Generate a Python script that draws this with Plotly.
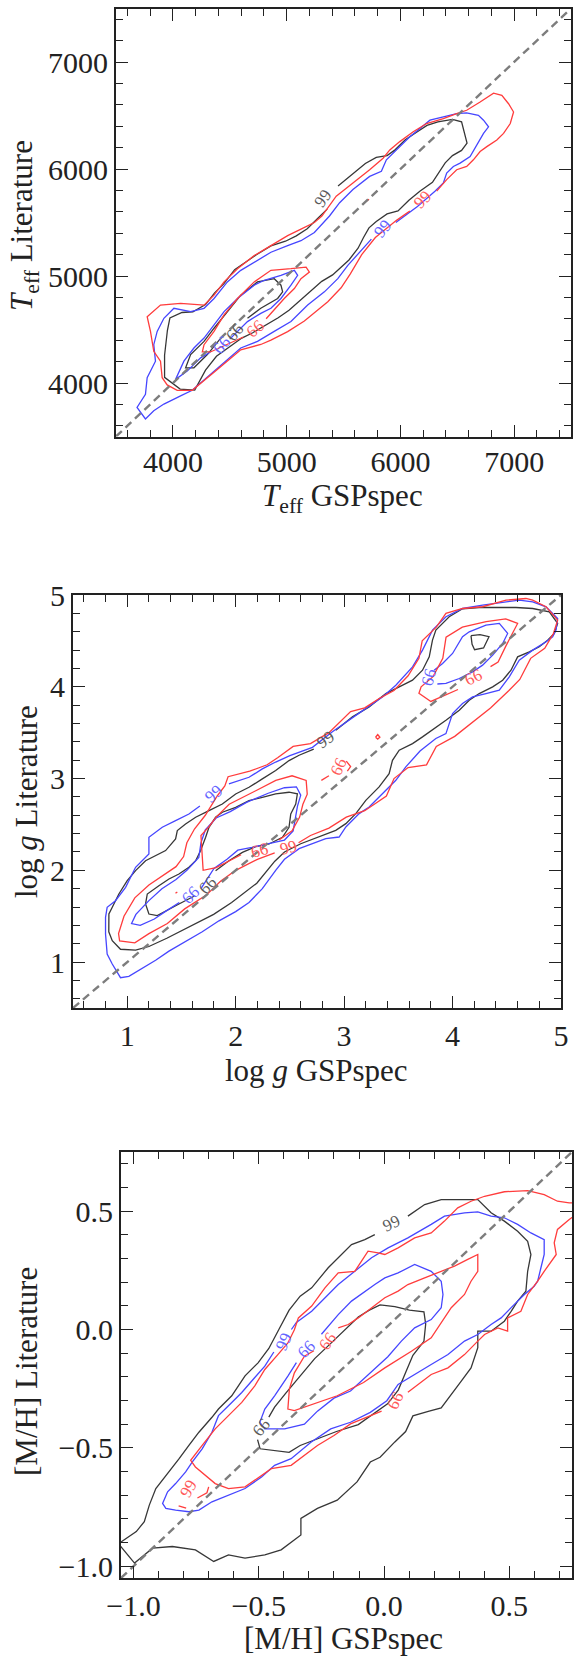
import plotly.graph_objects as go

W, H = 574, 1656

# ---------------- axis ranges / ticks ----------------
TEFF_RANGE = [3500, 7500]
LOGG_RANGE = [0.5, 5.0]
MH_RANGE = [-1.05, 0.75]

# ---------------- Panel 1 : Teff ----------------
TEFF_BLACK_99 = [(5452,5841),(5564,5941),(5692,6051),(5788,6108),(5883,6125),(5947,6174),(6043,6274),(6139,6341),
    (6234,6408),(6330,6441),(6458,6464),(6538,6441),(6570,6324),(6586,6241),(6538,6174),(6458,6125),(6394,6058),
    (6330,5958),(6282,5875),(6171,5792),(6075,5708),(5979,5608),(5883,5580),(5788,5510),(5724,5450),(5676,5360),
    (5628,5260),(5548,5150),(5484,5090),(5404,5010),(5309,4950),(5213,4860),(5117,4770),(5021,4680),(4926,4610),
    (4798,4530),(4702,4470),(4606,4420),(4511,4350),(4383,4250),(4287,4120),(4192,3933),(4064,3943),(3927,4053),
    (3927,4260),(3952,4493),(3974,4609),(4080,4659),(4176,4666),(4287,4733),(4367,4842),(4447,4926),(4543,5059),
    (4638,5132),(4734,5199),(4862,5282),(4990,5325),(5085,5375),(5181,5442),(5277,5542),(5357,5625)]
TEFF_BLACK_66 = [(4421,4420),(4303,4266),(4185,4142),(4112,4142),(4156,4266),(4274,4389),(4362,4512),(4479,4667),
    (4597,4821),(4744,4945),(4891,4975),(4950,4914),(4965,4852),(4921,4790),(4773,4698),(4656,4605)]
TEFF_BLUE_99 = [(5745,5345),(5642,5222),(5538,5099),(5450,4975),(5332,4852),(5185,4728),(5038,4574),(4891,4482),
    (4744,4389),(4597,4327),(4362,4111),(4170,3932),(4068,3880),(3921,3803),(3832,3741),(3759,3664),(3685,3772),
    (3759,3895),(3774,4050),(3847,4204),(3832,4358),(3862,4482),(3921,4605),(4009,4698),(4156,4667),(4274,4698),
    (4362,4790),(4479,4945),(4597,5053),(4715,5130),(4862,5222),(5009,5284),(5126,5330),(5244,5407),(5377,5561),
    (5466,5685),(5583,5808),(5730,5931),(5833,5978),(5877,6086),(5966,6178),(6083,6302),(6172,6379),(6260,6456),
    (6378,6487),(6495,6518),(6583,6524),(6686,6502),(6731,6456),(6775,6394),(6731,6333),(6672,6225),(6613,6117),
    (6525,6055),(6466,6024),(6407,5962),(6378,5870),(6304,5793),(6150,5650),(5960,5500)]
TEFF_BLUE_66 = [(4330,4290),(4244,4235),(4126,4111),(4024,4034),(4097,4204),(4185,4327),(4274,4420),(4362,4543),
    (4450,4667),(4568,4790),(4715,4914),(4803,4960),(4950,5006),(5068,5053),(5097,5006),(5038,4914),(4950,4790),
    (4862,4698),(4773,4651),(4656,4574),(4568,4482),(4500,4410)]
TEFF_RED_99 = [(6083,5607),(5966,5520),(5780,5360),(5660,5200),(5560,5020),(5479,4890),(5362,4760),(5244,4660),
    (5156,4580),(5009,4480),(4862,4400),(4773,4360),(4597,4310),(4362,4100),(4170,3932),(4038,3932),(3950,3982),
    (3906,4050),(3891,4204),(3832,4296),(3803,4482),(3774,4620),(3891,4728),(4068,4744),(4274,4728),(4362,4821),
    (4450,4945),(4568,5068),(4715,5191),(4862,5284),(5009,5377),(5126,5438),(5244,5500),(5310,5560),(5436,5746),
    (5583,5870),(5730,5993),(5848,6101),(5907,6178),(5995,6256),(6113,6348),(6230,6425),(6378,6471),(6495,6518),
    (6583,6549),(6701,6626),(6819,6709),(6892,6688),(6951,6610),(6995,6533),(6966,6425),(6907,6333),(6848,6271),
    (6760,6209),(6701,6163),(6642,6086),(6583,6024),(6495,5993),(6407,5901),(6319,5793)]
TEFF_RED_66 = [(4820,4600),(4862,4651),(4979,4790),(5068,4883),(5126,4975),(5200,5037),(5171,5083),(5038,5068),
    (4862,5053),(4715,4945),(4568,4790),(4450,4636),(4362,4482),(4274,4358),(4259,4290),(4330,4290),(4450,4345),
    (4620,4430)]
TEFF_RED_DOT = [(5700,5700),(5725,5718)]
TEFF_LABELS = [(5320,5720,"99","black",-55),(5845,5445,"99","blue",-50),(6195,5715,"99","red",-45),
    (4730,4505,"66","red",-40),(4425,4355,"66","blue",-50),(4540,4475,"66","black",-50)]

# ---------------- Panel 2 : log g ----------------
LOGG_BLACK_99 = [(2.923,3.527),(3.077,3.672),(3.231,3.781),(3.385,3.926),(3.508,3.999),(3.631,4.072),(3.723,4.181),
    (3.785,4.326),(3.815,4.508),(3.846,4.617),(3.969,4.763),(4.092,4.850),(4.246,4.864),(4.431,4.864),(4.585,4.864),
    (4.739,4.853),(4.892,4.817),(4.969,4.690),(4.938,4.581),(4.877,4.508),(4.800,4.436),(4.708,4.381),(4.600,4.326),
    (4.539,4.181),(4.462,4.072),(4.370,3.999),(4.246,3.926),(4.154,3.854),(4.062,3.745),(3.939,3.636),(3.815,3.527),
    (3.723,3.454),(3.631,3.381),(3.508,3.309),(3.446,3.199),(3.415,3.054),(3.323,2.909),(3.200,2.763),(3.108,2.618),
    (3.016,2.509),(2.923,2.436),(2.770,2.363),(2.600,2.290),(2.450,2.200),(2.361,2.100),(2.195,1.860),(1.963,1.650),
    (1.797,1.520),(1.598,1.400),(1.365,1.260),(1.200,1.170),(1.077,1.130),(0.938,1.140),(0.862,1.233),(0.830,1.330),
    (0.831,1.524),(0.862,1.597),(0.923,1.742),(1.000,1.887),(1.077,1.997),(1.169,2.105),(1.354,2.215),(1.446,2.342),
    (1.462,2.433),(1.538,2.505),(1.631,2.578),(1.754,2.651),(1.877,2.723),(2.000,2.832),(2.123,2.905),(2.246,2.996),
    (2.369,3.087),(2.492,3.196),(2.585,3.254),(2.720,3.320)]
LOGG_BLACK_66 = [(1.815,1.996),(1.938,2.105),(2.062,2.196),(2.185,2.258),(2.308,2.287),(2.431,2.360),(2.492,2.469),
    (2.508,2.614),(2.554,2.723),(2.569,2.833),(2.492,2.851),(2.369,2.833),(2.246,2.796),(2.123,2.760),(2.000,2.687),
    (1.877,2.633),(1.815,2.578),(1.754,2.469),(1.723,2.360),(1.677,2.215),(1.631,2.105),(1.569,2.033),(1.477,1.960),
    (1.385,1.906),(1.292,1.833),(1.185,1.742),(1.169,1.633),(1.200,1.524),(1.277,1.506),(1.385,1.578),(1.477,1.633),
    (1.620,1.720)]
LOGG_BLACK_66B = [(4.170,4.558),(4.253,4.569),(4.336,4.546),(4.286,4.423),(4.203,4.404),(4.180,4.462),(4.170,4.558)]
LOGG_BLUE_99 = [(1.938,2.942),(2.123,3.014),(2.246,3.105),(2.369,3.180),(2.500,3.250),(2.585,3.290),(2.708,3.340),
    (2.892,3.509),(3.046,3.636),(3.200,3.763),(3.354,3.890),(3.477,4.017),(3.631,4.217),(3.723,4.399),(3.815,4.617),
    (3.939,4.763),(4.092,4.853),(4.277,4.890),(4.431,4.915),(4.615,4.944),(4.739,4.926),(4.862,4.871),(4.969,4.744),
    (4.954,4.617),(4.923,4.544),(4.862,4.490),(4.739,4.399),(4.615,4.290),(4.523,4.108),(4.431,3.963),(4.308,3.926),
    (4.185,3.890),(4.092,3.818),(4.000,3.708),(3.939,3.490),(3.846,3.436),(3.700,3.300),(3.569,3.127),(3.477,2.981),
    (3.354,2.836),(3.231,2.690),(3.139,2.618),(3.016,2.472),(2.954,2.363),(2.831,2.345),(2.708,2.291),(2.585,2.236),
    (2.450,2.120),(2.369,2.000),(2.246,1.800),(2.123,1.650),(2.000,1.550),(1.846,1.450),(1.692,1.330),(1.538,1.220),
    (1.385,1.120),(1.262,1.020),(1.138,0.930),(1.015,0.845),(0.938,0.830),(0.862,0.979),(0.815,1.088),(0.800,1.306),
    (0.800,1.488),(0.815,1.597),(0.892,1.669),(0.985,1.815),(1.077,2.033),(1.200,2.178),(1.200,2.360),(1.323,2.469),
    (1.446,2.542),(1.569,2.614),(1.670,2.700)]
LOGG_BLUE_66 = [(1.680,1.800),(1.800,2.020),(1.920,2.120),(2.020,2.220),(2.150,2.250),(2.300,2.290),(2.450,2.330),
    (2.530,2.430),(2.550,2.550),(2.570,2.700),(2.600,2.820),(2.560,2.910),(2.450,2.900),(2.300,2.840),(2.100,2.740),
    (1.950,2.640),(1.820,2.570),(1.720,2.440),(1.680,2.300),(1.660,2.140),(1.550,2.000),(1.450,1.900),(1.320,1.800),
    (1.200,1.670),(1.080,1.520),(1.040,1.420),(1.120,1.400),(1.250,1.470),(1.350,1.550),(1.480,1.650)]
LOGG_BLUE_66B = [(3.830,4.180),(3.908,4.254),(4.000,4.363),(4.092,4.545),(4.154,4.599),(4.308,4.672),(4.431,4.690),
    (4.508,4.581),(4.462,4.472),(4.370,4.345),(4.277,4.236),(4.185,4.163),(4.062,4.090),(3.939,4.036),(3.860,4.030)]
LOGG_RED_99 = [(2.580,2.300),(2.690,2.380),(2.860,2.460),(3.020,2.580),(3.190,2.650),(3.390,2.810),(3.460,3.000),
    (3.590,3.120),(3.760,3.150),(3.850,3.350),(4.020,3.460),(4.190,3.620),(4.350,3.770),(4.520,3.960),(4.620,4.080),
    (4.720,4.310),(4.850,4.420),(4.930,4.580),(4.969,4.726),(4.862,4.872),(4.739,4.944),(4.677,4.962),(4.493,4.944),
    (4.277,4.872),(4.092,4.853),(3.939,4.800),(3.850,4.650),(3.720,4.500),(3.690,4.310),(3.590,4.120),(3.460,3.960),
    (3.320,3.870),(3.190,3.770),(3.060,3.730),(2.860,3.500),(2.690,3.380),(2.530,3.350),(2.390,3.230),(2.290,3.150),
    (2.130,3.080),(1.930,3.020),(1.900,2.920),(1.830,2.810),(1.720,2.600),(1.620,2.450),(1.550,2.300),(1.520,2.150),
    (1.450,2.040),(1.330,1.940),(1.200,1.840),(1.070,1.700),(0.970,1.500),(0.920,1.310),(0.930,1.230),(1.070,1.210),
    (1.200,1.310),(1.370,1.420),(1.530,1.580),(1.730,1.730),(1.860,1.880),(2.000,2.000),(2.200,2.120),(2.360,2.190)]
LOGG_RED_66 = [(2.400,2.330),(2.520,2.430),(2.590,2.580),(2.620,2.720),(2.660,2.830),(2.650,2.980),(2.520,3.030),
    (2.370,2.980),(2.190,2.870),(1.940,2.720),(1.820,2.580),(1.750,2.470),(1.680,2.380),(1.700,2.000),(1.820,2.030),
    (1.940,2.100),(2.050,2.170)]
LOGG_RED_66B = [(4.350,4.220),(4.420,4.270),(4.490,4.440),(4.550,4.580),(4.600,4.690),(4.490,4.740),(4.310,4.710),
    (4.090,4.650),(3.940,4.540),(3.910,4.310),(3.820,4.110),(3.710,4.000),(3.690,3.930),(3.800,3.840),(3.950,3.920),
    (4.050,3.970)]
LOGG_RED_66C = [(2.790,2.980),(2.860,3.030),None,(3.020,3.190),(3.060,3.130),(3.030,3.080)]
LOGG_RED_DOT = [(1.445,1.750),(1.462,1.765)]
LOGG_RED_LOOP = [(3.290,3.450),(3.310,3.480),(3.330,3.450),(3.310,3.430),(3.290,3.450)]
LOGG_LABELS = [(2.830,3.425,"99","black",-35),(1.800,2.840,"99","blue",-40),(1.580,1.730,"66","blue",-45),
    (1.740,1.835,"66","black",-45),(2.220,2.220,"66","red",-15),(2.490,2.245,"99","red",-15),
    (3.780,4.105,"66","blue",-75),(4.190,4.100,"66","red",-25),(2.950,3.130,"66","red",-65)]

# ---------------- Panel 3 : [M/H] ----------------
MH_BLACK_99 = [(0.095,0.479),(0.162,0.528),(0.228,0.549),(0.294,0.549),(0.374,0.549),(0.427,0.493),(0.480,0.458),
    (0.533,0.415),(0.573,0.373),(0.586,0.317),(0.573,0.246),(0.566,0.162),(0.533,0.120),(0.507,0.077),(0.480,0.035),
    (0.427,-0.007),(0.374,-0.007),(0.374,-0.077),(0.347,-0.162),(0.308,-0.218),(0.268,-0.275),(0.228,-0.331),
    (0.180,-0.345),(0.115,-0.365),(0.086,-0.431),(0.043,-0.475),(-0.016,-0.540),(-0.055,-0.560),(-0.108,-0.644),
    (-0.187,-0.721),(-0.266,-0.756),(-0.332,-0.798),(-0.332,-0.868),(-0.411,-0.931),(-0.476,-0.952),(-0.555,-0.966),
    (-0.621,-0.952),(-0.680,-0.980),(-0.753,-0.931),(-0.845,-0.917),(-0.924,-0.924),(-0.996,-0.987),(-1.060,-0.905),
    (-0.989,-0.854),(-0.957,-0.812),(-0.937,-0.742),(-0.911,-0.672),(-0.858,-0.602),(-0.818,-0.546),(-0.779,-0.490),
    (-0.739,-0.434),(-0.687,-0.371),(-0.661,-0.336),(-0.608,-0.280),(-0.555,-0.196),(-0.503,-0.141),(-0.460,-0.080),
    (-0.420,0.000),(-0.379,0.082),(-0.335,0.141),(-0.289,0.176),(-0.223,0.261),(-0.170,0.317),(-0.130,0.359),
    (-0.077,0.380),(-0.037,0.401)]
MH_BLACK_66 = [(-0.460,-0.370),(-0.437,-0.328),(-0.393,-0.270),(-0.335,-0.196),(-0.277,-0.123),(-0.219,-0.065),
    (-0.161,-0.006),(-0.103,0.053),(-0.059,0.082),(-0.016,0.104),(0.043,0.097),(0.101,0.082),(0.159,0.075),
    (0.166,0.023),(0.159,-0.050),(0.115,-0.109),(0.086,-0.182),(0.057,-0.255),(0.014,-0.314),(-0.045,-0.358),
    (-0.103,-0.402),(-0.190,-0.431),(-0.277,-0.468),(-0.335,-0.490),(-0.379,-0.519),(-0.437,-0.512),(-0.495,-0.504),
    (-0.505,-0.465)]
MH_BLUE_99 = [(-0.370,0.000),(-0.350,0.030),(-0.289,0.077),(-0.236,0.134),(-0.183,0.190),(-0.117,0.246),(-0.050,0.303),
    (0.016,0.345),(0.095,0.387),(0.188,0.444),(0.241,0.479),(0.321,0.493),(0.374,0.497),(0.427,0.479),(0.480,0.472),
    (0.533,0.444),(0.586,0.408),(0.639,0.380),(0.639,0.317),(0.626,0.261),(0.613,0.204),(0.599,0.183),(0.560,0.148),
    (0.520,0.106),(0.467,0.049),(0.427,0.021),(0.374,-0.021),(0.321,-0.049),(0.255,-0.106),(0.188,-0.148),
    (0.122,-0.190),(0.056,-0.232),(0.011,-0.301),(-0.055,-0.350),(-0.134,-0.392),(-0.213,-0.420),(-0.292,-0.476),
    (-0.371,-0.546),(-0.437,-0.574),(-0.489,-0.623),(-0.555,-0.672),(-0.621,-0.700),(-0.687,-0.728),(-0.739,-0.763),
    (-0.779,-0.770),(-0.832,-0.763),(-0.871,-0.756),(-0.884,-0.735),(-0.864,-0.686),(-0.832,-0.651),(-0.792,-0.602),
    (-0.766,-0.560),(-0.726,-0.504),(-0.687,-0.434),(-0.661,-0.364),(-0.621,-0.322),(-0.568,-0.266),(-0.516,-0.203),
    (-0.476,-0.155),(-0.440,-0.095)]
MH_BLUE_66 = [(-0.250,-0.020),(-0.183,0.063),(-0.130,0.120),(-0.077,0.162),(-0.037,0.190),(0.003,0.218),(0.056,0.239),
    (0.122,0.275),(0.188,0.246),(0.228,0.204),(0.235,0.148),(0.228,0.092),(0.188,0.042),(0.122,0.007),(0.069,-0.049),
    (0.015,-0.115),(-0.052,-0.180),(-0.134,-0.260),(-0.200,-0.290),(-0.266,-0.345),(-0.318,-0.400),(-0.397,-0.420),
    (-0.476,-0.420),(-0.496,-0.392),(-0.476,-0.336),(-0.437,-0.280),(-0.384,-0.197),(-0.350,-0.140)]
MH_RED_99 = [(0.760,0.535),(0.739,0.535),(0.692,0.542),(0.639,0.570),(0.573,0.587),(0.480,0.582),(0.401,0.563),
    (0.347,0.542),(0.294,0.514),(0.241,0.458),(0.188,0.408),(0.122,0.387),(0.056,0.345),(0.003,0.317),(-0.024,0.324),
    (-0.064,0.331),(-0.090,0.289),(-0.117,0.246),(-0.183,0.239),(-0.236,0.176),(-0.289,0.099),(-0.342,0.049),
    (-0.358,-0.001),(-0.384,-0.057),(-0.424,-0.106),(-0.476,-0.169),(-0.516,-0.238),(-0.568,-0.308),(-0.621,-0.364),
    (-0.674,-0.420),(-0.726,-0.490),(-0.772,-0.553),(-0.753,-0.581),(-0.713,-0.616),(-0.674,-0.651),(-0.621,-0.672),
    (-0.555,-0.665),(-0.450,-0.588),(-0.371,-0.574),(-0.266,-0.490),(-0.200,-0.448),(-0.134,-0.399),(-0.055,-0.364),
    (-0.010,-0.345),None,(0.095,-0.265),(0.188,-0.190),(0.255,-0.162),(0.321,-0.106),(0.374,-0.049),(0.401,-0.021),
    (0.454,0.007),(0.493,-0.007),(0.493,0.049),(0.546,0.077),(0.573,0.148),(0.613,0.204),(0.639,0.246),(0.687,0.317),
    (0.679,0.366),(0.692,0.423),(0.739,0.465),(0.760,0.480)]
MH_RED_66 = [(-0.183,0.007),(-0.143,0.021),(-0.103,0.049),(-0.050,0.092),(0.003,0.134),(0.056,0.162),(0.095,0.190),
    (0.162,0.218),(0.228,0.246),(0.281,0.268),(0.334,0.296),(0.374,0.317),(0.374,0.246),(0.347,0.204),(0.321,0.148),
    (0.268,0.092),(0.188,-0.035),(0.109,-0.092),(0.003,-0.162),(-0.082,-0.224),(-0.187,-0.280),(-0.266,-0.308),
    (-0.358,-0.343),(-0.384,-0.336),(-0.378,-0.252),(-0.358,-0.183),(-0.318,-0.113),(-0.280,-0.090)]
MH_RED_HOOK = [(-0.700,-0.665),(-0.707,-0.690),(-0.745,-0.712),None,(-0.790,-0.755),(-0.820,-0.745)]
MH_LABELS = [(0.028,0.447,"99","black",-25),(-0.400,-0.050,"99","blue",-65),(-0.310,-0.085,"66","blue",-45),
    (-0.226,-0.050,"66","red",-55),(-0.490,-0.415,"66","black",-50),(0.045,-0.300,"99","red",115),
    (-0.780,-0.672,"99","red",-60)]

# ---------------- style ----------------
BLACK = "rgb(55,55,55)"
BLUE = "rgb(70,70,255)"
RED = "rgb(255,60,60)"
LABEL_COLORS = {"black": "rgb(90,90,90)", "blue": "rgb(100,100,255)", "red": "rgb(255,90,90)"}
FONT = "Liberation Serif"

fig = go.Figure()

def add_path(pts, color, ax):
    xs = [p[0] if p is not None else None for p in pts]
    ys = [p[1] if p is not None else None for p in pts]
    fig.add_trace(go.Scatter(x=xs, y=ys, mode="lines", line=dict(color=color, width=1.3),
                             xaxis="x" + ax, yaxis="y" + ax, hoverinfo="skip",
                             showlegend=False, connectgaps=False))

def add_labels(labels, ax):
    for (x, y, t, c, ang) in labels:
        fig.add_annotation(x=x, y=y, xref="x" + ax, yref="y" + ax, text=t, showarrow=False,
                           textangle=ang, font=dict(family=FONT, size=17, color=LABEL_COLORS[c]))

def add_diag(rng, ax):
    fig.add_trace(go.Scatter(x=rng, y=rng, mode="lines",
                             line=dict(color="rgb(125,125,125)", width=2.4, dash="8px,5px"),
                             xaxis="x" + ax, yaxis="y" + ax, hoverinfo="skip", showlegend=False))

# panel 1
for pts, c in [(TEFF_BLACK_99, BLACK), (TEFF_BLACK_66, BLACK), (TEFF_BLUE_99, BLUE), (TEFF_BLUE_66, BLUE),
               (TEFF_RED_99, RED), (TEFF_RED_66, RED), (TEFF_RED_DOT, RED)]:
    add_path(pts, c, "")
add_diag(TEFF_RANGE, "")
add_labels(TEFF_LABELS, "")

# panel 2
for pts, c in [(LOGG_BLACK_99, BLACK), (LOGG_BLACK_66, BLACK), (LOGG_BLACK_66B, BLACK),
               (LOGG_BLUE_99, BLUE), (LOGG_BLUE_66, BLUE), (LOGG_BLUE_66B, BLUE),
               (LOGG_RED_99, RED), (LOGG_RED_66, RED), (LOGG_RED_66B, RED), (LOGG_RED_66C, RED),
               (LOGG_RED_DOT, RED), (LOGG_RED_LOOP, RED)]:
    add_path(pts, c, "2")
add_diag(LOGG_RANGE, "2")
add_labels(LOGG_LABELS, "2")

# panel 3
for pts, c in [(MH_BLACK_99, BLACK), (MH_BLACK_66, BLACK), (MH_BLUE_99, BLUE), (MH_BLUE_66, BLUE),
               (MH_RED_99, RED), (MH_RED_66, RED), (MH_RED_HOOK, RED)]:
    add_path(pts, c, "3")
add_diag(MH_RANGE, "3")
add_labels(MH_LABELS, "3")

def axis(rng, dom, dtick, tick0, minor, fmt, anchor, standoff=0):
    return dict(range=rng, domain=dom, anchor=anchor, showline=True, linecolor="#222", linewidth=2,
                mirror="ticks", ticks="inside", ticklen=12, tickwidth=1.2, tickcolor="#222",
                dtick=dtick, tick0=tick0, tickformat=fmt, showgrid=False, zeroline=False,
                tickfont=dict(family=FONT, size=30, color="#222"), ticklabelstandoff=standoff,
                minor=dict(ticks="inside", ticklen=7, tickwidth=1.2, tickcolor="#222", dtick=minor,
                           tick0=tick0, showgrid=False))

def px_x(a, b):
    return [a / W, b / W]

def px_y(top, bottom):
    return [1 - bottom / H, 1 - top / H]

fig.update_layout(
    width=W, height=H, margin=dict(l=0, r=0, t=0, b=0, autoexpand=False),
    paper_bgcolor="white", plot_bgcolor="white", showlegend=False,
    xaxis=axis(TEFF_RANGE, px_x(116, 571), 1000, 4000, 200, "d", "y", standoff=-3),
    yaxis=axis(TEFF_RANGE, px_y(8.5, 436.5), 1000, 4000, 200, "d", "x"),
    xaxis2=axis(LOGG_RANGE, px_x(73, 561), 1, 1, 0.2, "d", "y2"),
    yaxis2=axis(LOGG_RANGE, px_y(595, 1008), 1, 1, 0.2, "d", "x2"),
    xaxis3=axis(MH_RANGE, px_x(121, 572), 0.5, 0, 0.1, ".1f", "y3"),
    yaxis3=axis(MH_RANGE, px_y(1152, 1578), 0.5, 0, 0.1, ".1f", "x3"),
)

TITLES = [
    ("<i>T</i><sub>eff</sub> GSPspec", 342, 498, 0),
    ("<i>T</i><sub>eff</sub> Literature", 24, 226, -90),
    ("log <i>g</i> GSPspec", 316, 1070, 0),
    ("log <i>g</i> Literature", 27, 802, -90),
    ("[M/H] GSPspec", 343, 1638, 0),
    ("[M/H] Literature", 26, 1372, -90),
]
for t, x, y, ang in TITLES:
    fig.add_annotation(x=x / W, y=1 - y / H, xref="paper", yref="paper", text=t, showarrow=False,
                       textangle=ang, xanchor="center", yanchor="middle",
                       font=dict(family=FONT, size=31, color="#222"))

fig.write_html("out.html", config={"displayModeBar": False},
               post_script="document.body.style.margin='0px';document.body.style.overflow='hidden';")
